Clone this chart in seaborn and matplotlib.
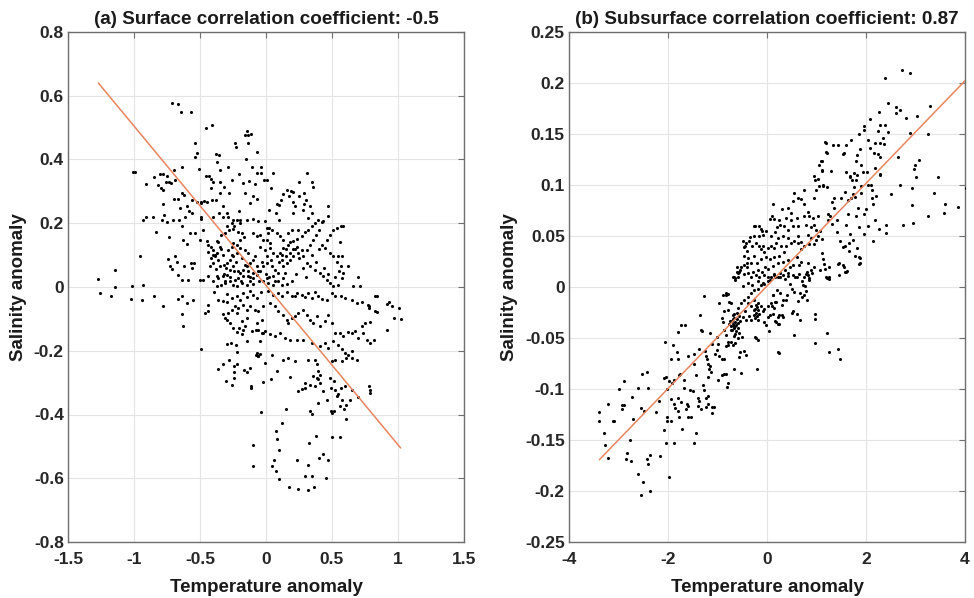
import matplotlib
matplotlib.use("Agg")
import numpy as np
import pandas as pd
import seaborn as sns
import matplotlib.pyplot as plt
from matplotlib.ticker import FuncFormatter, MultipleLocator

# ---------------------------------------------------------------------------
# Surface layer: (temperature anomaly, salinity anomaly)
# ---------------------------------------------------------------------------
surface_upper = [
    (-1.27, 0.025), (-0.715, 0.576), (-0.664, 0.574), (-0.644, 0.549), (-0.568, 0.549),
    (-0.455, 0.498), (-0.409, 0.509), (-0.540, 0.451), (-0.520, 0.420), (-0.538, 0.407),
    (-0.636, 0.378), (-0.510, 0.370), (-0.457, 0.347), (-0.381, 0.418), (-0.359, 0.415),
    (-0.374, 0.392), (-0.348, 0.368), (-0.288, 0.378), (-0.232, 0.453), (-0.227, 0.438),
    (-0.152, 0.401), (-0.144, 0.490), (-0.134, 0.477), (-0.116, 0.480), (-0.159, 0.477),
    (-0.134, 0.453), (-0.071, 0.424), (-0.109, 0.378), (-0.040, 0.378), (0.051, 0.357),
    (0.308, 0.357), (0.351, 0.330), (0.359, 0.313), (-1.005, 0.360), (-0.992, 0.362),
    (-0.912, 0.323), (-0.851, 0.345), (-0.803, 0.355), (-0.783, 0.354), (-0.753, 0.347),
    (-0.821, 0.320), (-0.793, 0.312), (-0.760, 0.328), (-0.732, 0.328), (-0.717, 0.326),
    (-0.700, 0.368), (-0.689, 0.336), (-0.639, 0.295), (-0.621, 0.289), (-0.697, 0.276),
    (-0.667, 0.277), (-0.783, 0.305), (-0.783, 0.261), (-0.652, 0.248), (-0.601, 0.253),
    (-0.581, 0.237), (-0.558, 0.274), (-0.525, 0.268), (-0.492, 0.268), (-0.470, 0.269),
    (-0.444, 0.268), (-0.409, 0.274), (-0.381, 0.274), (-0.492, 0.263), (-0.434, 0.347),
    (-0.419, 0.338), (-0.399, 0.328), (-0.348, 0.328), (-0.316, 0.315), (-0.283, 0.295),
    (-0.348, 0.295), (-0.419, 0.310), (-0.258, 0.336), (-0.202, 0.355), (-0.177, 0.326),
    (-0.131, 0.331), (-0.071, 0.357), (-0.035, 0.357), (-0.013, 0.336), (0.005, 0.336),
    (-0.081, 0.324), (-0.157, 0.295), (-0.096, 0.284), (-0.071, 0.277), (-0.121, 0.263),
    (-0.207, 0.237), (-0.298, 0.232), (-0.359, 0.232), (-0.323, 0.253), (0.035, 0.310),
    (0.114, 0.274), (0.101, 0.256), (0.086, 0.261), (0.131, 0.291), (0.162, 0.305),
    (0.189, 0.300), (0.207, 0.297), (0.174, 0.284), (0.207, 0.268), (0.217, 0.253),
    (0.202, 0.232), (0.247, 0.284), (0.290, 0.295), (0.300, 0.274), (0.290, 0.261),
    (0.283, 0.242), (0.253, 0.328), (0.101, 0.211), (0.073, 0.232), (0.025, 0.242),
    (-0.058, 0.206), (-0.008, 0.206), (0.020, 0.185), (0.005, 0.185), (-0.096, 0.213),
    (-0.144, 0.211), (-0.197, 0.211), (-0.247, 0.211), (-0.285, 0.219), (-0.328, 0.221),
    (-0.298, 0.190), (-0.399, 0.221), (-0.495, 0.221), (-0.492, 0.213), (-0.480, 0.180),
    (-0.563, 0.232), (-0.614, 0.221), (-0.657, 0.211), (-0.702, 0.209), (-0.753, 0.203),
    (-0.788, 0.211), (-0.773, 0.227), (-0.639, 0.190), (-0.576, 0.169), (-0.535, 0.169),
    (-0.500, 0.148), (-0.929, 0.211), (-0.912, 0.221), (-0.854, 0.221), (-0.833, 0.174),
    (-0.732, 0.156), (-0.631, 0.148), (-0.601, 0.136), (-0.955, 0.098), (-0.727, 0.065),
    (-0.712, 0.056), (-0.689, 0.098), (-0.677, 0.080), (-0.619, 0.065), (-0.571, 0.075),
    (-0.548, 0.075), (-0.563, 0.060), (-0.669, 0.039), (-0.740, 0.088), (-0.639, 0.023),
    (-0.593, 0.023), (-0.500, 0.023), (-0.475, 0.023), (-0.437, 0.036), (-0.374, 0.033),
    (-1.144, 0.054), (-1.018, 0.002), (-0.934, 0.005), (-1.144, 0.001),
]

surface_core = [
    (-0.449, 0.143), (-0.437, 0.133), (-0.414, 0.127), (-0.399, 0.117), (-0.404, 0.101),
    (-0.386, 0.096), (-0.374, 0.106), (-0.361, 0.086), (-0.399, 0.075), (-0.424, 0.065),
    (-0.379, 0.056), (-0.348, 0.065), (-0.318, 0.070), (-0.298, 0.075), (-0.273, 0.086),
    (-0.247, 0.096), (-0.222, 0.106), (-0.247, 0.065), (-0.273, 0.054), (-0.298, 0.039),
    (-0.328, 0.033), (-0.361, 0.028), (-0.399, 0.018), (-0.374, 0.004), (-0.343, 0.007),
    (-0.311, 0.013), (-0.273, 0.018), (-0.235, 0.023), (-0.210, 0.028), (-0.197, 0.044),
    (-0.172, 0.054), (-0.146, 0.065), (-0.121, 0.075), (-0.096, 0.086), (-0.083, 0.096),
    (-0.134, 0.106), (-0.159, 0.117), (-0.197, 0.122), (-0.222, 0.133), (-0.260, 0.127),
    (-0.285, 0.117), (-0.328, 0.101), (-0.348, 0.127), (-0.374, 0.143), (-0.341, 0.164),
    (-0.308, 0.169), (-0.278, 0.180), (-0.247, 0.182), (-0.210, 0.174), (-0.184, 0.169),
    (-0.167, 0.157), (-0.197, 0.148), (-0.247, 0.138), (-0.096, 0.169), (-0.071, 0.159),
    (-0.045, 0.164), (-0.020, 0.148), (-0.045, 0.127), (-0.008, 0.117), (0.030, 0.122),
    (0.056, 0.106), (0.081, 0.096), (0.035, 0.086), (0.005, 0.075), (-0.020, 0.065),
    (-0.045, 0.049), (-0.071, 0.039), (-0.096, 0.028), (-0.121, 0.018), (-0.146, 0.007),
    (-0.184, 0.013), (-0.217, 0.002), (-0.247, 0.007), (-0.172, 0.033), (-0.134, 0.033),
    (-0.096, 0.044), (-0.071, 0.065), (-0.033, 0.080), (0.005, 0.096), (0.043, 0.065),
    (0.068, 0.054), (0.093, 0.044), (0.056, 0.033), (0.005, 0.028), (-0.020, 0.018),
    (0.018, 0.013), (0.051, 0.007), (0.093, 0.018), (0.126, 0.028), (0.144, 0.044),
    (0.131, 0.065), (0.157, 0.075), (0.182, 0.086), (0.207, 0.096), (0.245, 0.106),
    (0.270, 0.117), (0.237, 0.127), (0.207, 0.119), (0.182, 0.106), (0.152, 0.096),
    (0.119, 0.086), (0.106, 0.106), (0.131, 0.122), (0.169, 0.133), (0.202, 0.143),
    (0.232, 0.150), (0.270, 0.161), (0.295, 0.171), (0.321, 0.180), (0.346, 0.190),
    (0.371, 0.201), (0.396, 0.209), (0.422, 0.203), (0.404, 0.180), (0.379, 0.164),
    (0.359, 0.148), (0.333, 0.133), (0.308, 0.117), (0.283, 0.096), (0.308, 0.075),
    (0.333, 0.065), (0.371, 0.054), (0.409, 0.044), (0.434, 0.033), (0.460, 0.023),
    (0.485, 0.013), (0.510, 0.002), (0.548, 0.007), (0.573, 0.028), (0.586, 0.044),
    (0.566, 0.065), (0.535, 0.080), (0.510, 0.096), (0.485, 0.106), (0.447, 0.122),
    (0.422, 0.133), (0.460, 0.148), (0.485, 0.164), (0.510, 0.180), (0.535, 0.185),
    (0.566, 0.190), (0.586, 0.192), (0.561, 0.140), (0.548, 0.098), (0.573, 0.096),
    (0.624, 0.067), (0.699, 0.031), (0.662, 0.004), (0.712, 0.002), (0.472, 0.253),
    (0.467, 0.224), (0.434, 0.206), (0.346, 0.232), (0.321, 0.216), (0.333, 0.253),
    (0.240, 0.180), (0.194, 0.180), (0.169, 0.169), (0.131, 0.148), (0.106, 0.159),
    (0.081, 0.169), (0.043, 0.180), (0.018, 0.169), (0.005, 0.148), (0.030, 0.138),
    (-0.18, 0.09), (-0.16, 0.07), (-0.14, 0.05), (-0.12, 0.03), (-0.10, 0.01),
    (-0.19, 0.02), (-0.21, 0.05), (-0.23, 0.08), (-0.26, 0.10), (-0.30, 0.06),
    (-0.32, 0.04), (-0.34, 0.12), (-0.36, 0.14), (-0.39, 0.10), (-0.42, 0.09),
    (-0.44, 0.11), (-0.31, 0.02), (-0.27, 0.03), (-0.24, 0.05), (-0.05, 0.02),
    (-0.06, 0.05), (0.00, 0.04), (0.02, 0.03), (0.07, 0.02), (0.10, 0.08),
    (0.12, 0.10), (0.15, 0.12), (0.18, 0.14), (0.22, 0.12), (0.25, 0.09),
    (0.28, 0.06), (0.30, 0.03), (0.23, 0.04), (0.20, 0.02), (0.16, 0.01),
    (0.12, 0.005), (0.35, 0.10), (0.38, 0.08), (0.40, 0.12), (0.44, 0.06),
    (0.47, 0.04), (0.52, 0.03), (0.55, 0.05), (-0.26, 0.20), (-0.24, 0.19),
    (-0.22, 0.21), (-0.20, 0.20),
]

surface_lower = [
    (-1.258, -0.019), (-1.177, -0.029), (-1.025, -0.037), (-0.937, -0.042), (-0.846, -0.027),
    (-0.783, -0.061), (-0.664, -0.038), (-0.639, -0.029), (-0.596, -0.050), (-0.551, -0.040),
    (-0.639, -0.085), (-0.631, -0.123), (-0.462, -0.081), (-0.437, -0.055), (-0.437, -0.076),
    (-0.492, -0.194), (-0.391, -0.017), (-0.361, -0.042), (-0.323, -0.045), (-0.293, -0.048),
    (-0.323, -0.084), (-0.311, -0.097), (-0.298, -0.102), (-0.273, -0.113), (-0.285, -0.081),
    (-0.260, -0.071), (-0.235, -0.061), (-0.222, -0.081), (-0.250, -0.128), (-0.222, -0.142),
    (-0.184, -0.146), (-0.202, -0.128), (-0.172, -0.134), (-0.159, -0.123), (-0.146, -0.170),
    (-0.109, -0.139), (-0.076, -0.136), (-0.045, -0.170), (-0.025, -0.144), (-0.298, -0.178),
    (-0.268, -0.175), (-0.230, -0.181), (-0.222, -0.205), (-0.076, -0.212), (-0.058, -0.217),
    (-0.361, -0.257), (-0.323, -0.243), (-0.278, -0.228), (-0.240, -0.249), (-0.242, -0.267),
    (-0.222, -0.240), (-0.167, -0.259), (-0.146, -0.267), (-0.121, -0.254), (-0.303, -0.296),
    (-0.255, -0.309), (-0.240, -0.285), (-0.116, -0.311), (-0.116, -0.318), (-0.020, -0.299),
    (-0.040, -0.392), (-0.101, -0.497), (-0.101, -0.562), (-0.298, -0.021), (-0.260, -0.035),
    (-0.222, -0.027), (-0.197, -0.040), (-0.172, -0.019), (-0.146, -0.031), (-0.121, -0.014),
    (-0.096, -0.024), (-0.071, -0.035), (-0.040, -0.017), (-0.020, -0.061), (-0.172, -0.055),
    (-0.210, -0.066), (-0.146, -0.071), (-0.121, -0.061), (-0.083, -0.071), (-0.058, -0.076),
    (-0.033, -0.102), (-0.071, -0.113), (-0.146, -0.097), (-0.184, -0.108),
    (0.018, -0.014), (0.056, -0.024), (0.088, -0.019), (0.119, -0.027), (0.157, -0.017),
    (0.194, -0.029), (0.220, -0.027), (0.232, -0.019), (0.270, -0.024), (0.295, -0.031),
    (0.321, -0.019), (0.346, -0.034), (0.371, -0.017), (0.396, -0.029), (0.422, -0.038),
    (0.460, -0.040), (0.503, -0.019), (0.523, -0.029), (0.568, -0.027), (0.598, -0.034),
    (0.649, -0.040), (0.687, -0.050), (0.725, -0.048), (0.775, -0.058), (0.826, -0.029),
    (0.843, -0.027), (0.914, -0.052), (0.932, -0.048), (0.952, -0.060), (0.972, -0.097),
    (1.008, -0.066), (1.020, -0.100), (0.914, -0.136), (0.826, -0.076), (0.838, -0.079),
    (0.783, -0.061), (0.783, -0.066),
    (0.030, -0.050), (0.068, -0.061), (0.093, -0.076), (0.131, -0.087), (0.157, -0.102),
    (0.169, -0.113), (0.194, -0.097), (0.220, -0.092), (0.245, -0.081), (0.283, -0.071),
    (0.308, -0.087), (0.333, -0.102), (0.359, -0.113), (0.384, -0.092), (0.409, -0.123),
    (0.447, -0.108), (0.472, -0.087), (0.497, -0.113), (0.523, -0.144), (0.561, -0.144),
    (0.586, -0.155), (0.619, -0.142), (0.649, -0.144), (0.674, -0.139), (0.699, -0.160),
    (0.737, -0.144), (0.763, -0.165), (0.788, -0.175), (0.821, -0.165), (0.788, -0.111),
    (0.750, -0.113), (0.725, -0.123), (-0.058, -0.134), (-0.033, -0.144), (-0.008, -0.139),
    (0.030, -0.149), (0.068, -0.155), (0.106, -0.144), (0.144, -0.160), (0.182, -0.165),
    (0.232, -0.165), (0.283, -0.165), (0.346, -0.175), (0.409, -0.186), (0.447, -0.175),
    (0.472, -0.191), (0.510, -0.170), (0.548, -0.181), (0.578, -0.196), (0.598, -0.207),
    (0.624, -0.212), (0.654, -0.222), (0.687, -0.228), (0.649, -0.202), (0.604, -0.222),
    (0.573, -0.233), (0.523, -0.230), (0.503, -0.233), (-0.071, -0.207), (-0.058, -0.217),
    (-0.045, -0.210), (-0.008, -0.238), (0.043, -0.212), (0.081, -0.264), (0.131, -0.228),
    (0.169, -0.222), (0.220, -0.233), (0.321, -0.228), (0.371, -0.228), (0.384, -0.243),
    (0.396, -0.264), (0.409, -0.275), (0.384, -0.285), (0.359, -0.280), (0.391, -0.290),
    (0.409, -0.300), (0.371, -0.311), (0.333, -0.306), (0.295, -0.316), (0.270, -0.320),
    (0.245, -0.327), (0.295, -0.300), (0.038, -0.288), (0.182, -0.282),
    (0.485, -0.285), (0.518, -0.296), (0.492, -0.316), (0.460, -0.353), (0.434, -0.327),
    (0.523, -0.322), (0.535, -0.342), (0.548, -0.337), (0.568, -0.316), (0.598, -0.311),
    (0.578, -0.353), (0.604, -0.369), (0.593, -0.382), (0.561, -0.374), (0.518, -0.390),
    (0.492, -0.390), (0.503, -0.395), (0.604, -0.414), (0.636, -0.353), (0.649, -0.322),
    (0.699, -0.345), (0.780, -0.311), (0.788, -0.322), (0.788, -0.334), (0.391, -0.363),
    (0.333, -0.390), (0.351, -0.397), (0.149, -0.382), (0.124, -0.426), (0.076, -0.451),
    (0.081, -0.476), (0.098, -0.512), (0.063, -0.543), (0.043, -0.560), (0.076, -0.578),
    (0.098, -0.602), (0.174, -0.627), (0.240, -0.633), (0.321, -0.637), (0.366, -0.627),
    (0.295, -0.593), (0.351, -0.593), (0.452, -0.598), (0.235, -0.543), (0.316, -0.557),
    (0.402, -0.536), (0.434, -0.523), (0.472, -0.543), (0.326, -0.489), (0.379, -0.468),
    (0.497, -0.471), (0.561, -0.471),
]

# ---------------------------------------------------------------------------
# Subsurface layer: (temperature anomaly, salinity anomaly)
# ---------------------------------------------------------------------------
subsurface_upper = [
    (2.734, 0.213), (2.896, 0.210), (2.384, 0.205), (2.451, 0.180), (2.599, 0.176),
    (2.599, 0.171), (2.680, 0.174), (2.801, 0.166), (3.293, 0.177), (3.037, 0.168),
    (2.263, 0.172), (2.081, 0.165), (1.953, 0.158), (1.966, 0.154), (2.283, 0.159),
    (2.384, 0.159), (2.438, 0.152), (2.350, 0.146), (2.236, 0.153), (2.182, 0.141),
    (2.283, 0.141), (2.370, 0.140), (2.047, 0.144), (1.852, 0.150), (2.896, 0.151),
    (3.246, 0.150), (1.697, 0.144), (1.589, 0.139), (1.441, 0.139), (1.340, 0.139),
    (1.192, 0.141), (1.207, 0.131), (1.542, 0.130), (1.562, 0.131), (1.811, 0.129),
    (1.791, 0.124), (1.879, 0.135), (2.081, 0.136), (2.168, 0.131), (2.236, 0.130),
    (2.283, 0.127), (2.653, 0.127), (2.990, 0.120), (3.077, 0.125), (2.963, 0.116),
    (3.017, 0.108), (3.461, 0.108), (1.300, 0.114), (1.603, 0.113), (1.684, 0.109),
    (1.751, 0.112), (1.825, 0.110), (1.905, 0.120), (1.939, 0.113), (2.020, 0.113),
    (2.189, 0.117), (2.283, 0.111), (1.670, 0.108), (1.717, 0.105), (1.791, 0.105),
    (1.104, 0.124), (1.104, 0.114), (1.124, 0.100), (1.219, 0.098), (1.751, 0.098),
    (1.905, 0.099), (1.905, 0.092), (2.047, 0.100), (2.101, 0.100), (2.115, 0.095),
    (2.202, 0.089), (2.115, 0.087), (2.148, 0.081), (1.744, 0.091), (1.697, 0.087),
    (1.778, 0.088), (1.630, 0.085), (1.576, 0.093), (1.495, 0.087), (1.360, 0.087),
    (1.320, 0.083), (1.354, 0.077), (1.273, 0.070), (1.408, 0.066), (1.307, 0.062),
    (1.421, 0.054), (1.596, 0.061), (1.630, 0.072), (1.791, 0.070), (1.845, 0.077),
    (1.966, 0.072), (1.993, 0.076), (1.859, 0.059), (1.966, 0.052), (1.670, 0.052),
    (2.047, 0.060), (2.182, 0.066), (2.269, 0.057), (2.397, 0.061), (2.404, 0.053),
    (2.135, 0.045), (2.276, 0.110), (2.505, 0.091), (2.680, 0.100), (2.936, 0.080),
    (2.936, 0.097), (2.741, 0.061), (2.943, 0.063), (3.246, 0.070), (3.380, 0.092),
    (3.582, 0.073), (3.596, 0.081), (3.865, 0.078), (4.013, 0.097), (4.047, 0.087),
    (1.475, 0.045), (1.542, 0.039), (1.663, 0.043), (1.744, 0.046), (1.865, 0.029),
    (1.865, 0.023), (1.441, 0.023), (1.542, 0.022), (1.616, 0.016), (1.104, 0.047),
    (1.104, 0.033), (1.138, 0.027), (1.158, 0.023), (1.172, 0.018), (1.226, 0.009),
    (1.253, 0.008),
]

subsurface_core = [
    (1.178, 0.142), (1.192, 0.132), (1.091, 0.124), (1.057, 0.120), (1.104, 0.115),
    (0.956, 0.109), (1.023, 0.106), (0.970, 0.105), (0.990, 0.095), (1.057, 0.099),
    (1.125, 0.099), (0.552, 0.092), (0.741, 0.095), (0.943, 0.087), (0.620, 0.087),
    (0.687, 0.086), (0.519, 0.084), (0.114, 0.081), (0.296, 0.076), (0.418, 0.077),
    (0.485, 0.073), (0.754, 0.081), (0.822, 0.074), (0.754, 0.070), (0.855, 0.070),
    (0.923, 0.068), (1.023, 0.070), (1.226, 0.072), (1.239, 0.066), (0.599, 0.068),
    (0.384, 0.068), (0.485, 0.066), (0.249, 0.066), (0.135, 0.067), (0.054, 0.067),
    (0.195, 0.059), (0.269, 0.061), (0.350, 0.060), (0.418, 0.056), (0.519, 0.060),
    (0.633, 0.060), (0.788, 0.061), (0.889, 0.059), (0.956, 0.061), (0.990, 0.056),
    (1.071, 0.055), (0.620, 0.050), (0.822, 0.051), (0.889, 0.048), (0.990, 0.046),
    (1.023, 0.050), (0.943, 0.042), (0.855, 0.042), (0.754, 0.040), (0.687, 0.037),
    (0.687, 0.044), (0.620, 0.043), (0.552, 0.045), (0.485, 0.043), (0.418, 0.048),
    (0.316, 0.050), (0.229, 0.048), (0.162, 0.054), (0.081, 0.050), (-0.020, 0.055),
    (-0.088, 0.051), (-0.155, 0.050), (-0.256, 0.060), (-0.155, 0.060), (-0.108, 0.055),
    (-0.256, 0.050), (-0.357, 0.045), (-0.424, 0.043), (-0.458, 0.039), (-0.404, 0.035),
    (-0.471, 0.030), (-0.391, 0.028), (-0.310, 0.040), (-0.222, 0.043), (-0.155, 0.040),
    (-0.088, 0.040), (-0.121, 0.037), (-0.054, 0.034), (0.027, 0.038), (0.081, 0.040),
    (0.135, 0.038), (0.182, 0.043), (0.283, 0.040), (0.384, 0.040), (0.337, 0.034),
    (0.249, 0.030), (0.148, 0.029), (0.067, 0.027), (-0.020, 0.029), (-0.121, 0.027),
    (-0.202, 0.024), (-0.256, 0.030), (-0.323, 0.024), (-0.404, 0.020), (-0.471, 0.022),
    (-0.525, 0.020), (-0.559, 0.015), (-0.593, 0.010), (-0.471, 0.013), (-0.391, 0.014),
    (-0.290, 0.015), (-0.189, 0.017), (-0.108, 0.015), (-0.040, 0.020), (0.027, 0.018),
    (0.114, 0.021), (0.215, 0.024), (0.316, 0.025), (0.431, 0.026), (0.519, 0.022),
    (0.606, 0.029), (0.687, 0.025), (0.822, 0.024), (0.808, 0.015), (0.889, 0.017),
    (0.956, 0.020), (0.822, 0.012), (0.754, 0.010), (0.653, 0.013), (0.519, 0.012),
    (0.418, 0.014), (0.316, 0.012), (0.229, 0.010), (0.148, 0.012), (0.013, 0.010),
    (-0.067, 0.012), (-0.155, 0.010), (-0.222, 0.012), (-0.323, 0.010), (-0.660, 0.010),
    (-0.606, 0.015), (0.653, 0.022), (0.094, 0.070),
    (-0.480, 0.045), (-0.447, 0.040), (-0.413, 0.024), (-0.580, 0.014), (-0.650, 0.009),
    (-0.616, 0.020), (-0.548, 0.017), (-0.345, 0.049), (-0.244, 0.060), (-0.122, 0.057),
    (-0.379, 0.004), (-0.480, 0.001), (-0.311, 0.002), (-0.176, 0.006), (-0.074, 0.004),
    (0.061, 0.007), (0.162, 0.010), (0.264, 0.014), (0.365, 0.017), (0.467, 0.020),
    (0.568, 0.010), (0.704, 0.006), (0.771, 0.001), (0.839, 0.009), (0.907, 0.014),
    (1.076, 0.017), (1.245, 0.020), (1.448, 0.024), (1.549, 0.020), (1.583, 0.015),
    (1.448, 0.012), (1.245, 0.010), (1.211, 0.009), (1.786, 0.030), (1.888, 0.028),
    (1.888, 0.024), (1.583, 0.040), (1.651, 0.035), (1.820, 0.038),
    (-0.886, -0.008), (-0.820, -0.006), (-0.683, 0.010), (-0.650, 0.007),
]

subsurface_lower = [
    (-3.387, -0.123), (-3.387, -0.131), (-3.219, -0.115), (-3.118, -0.131), (-3.097, -0.131),
    (-3.300, -0.143), (-3.273, -0.155), (-3.205, -0.168), (-2.983, -0.100), (-2.936, -0.116),
    (-2.882, -0.116), (-2.929, -0.120), (-2.882, -0.092), (-2.734, -0.108), (-2.714, -0.129),
    (-2.761, -0.150), (-2.828, -0.163), (-2.848, -0.169), (-2.747, -0.171), (-2.613, -0.183),
    (-2.512, -0.191), (-2.357, -0.200), (-2.545, -0.204), (-2.431, -0.169), (-2.357, -0.165),
    (-2.398, -0.174), (-2.155, -0.166), (-1.973, -0.186), (-2.532, -0.085), (-2.424, -0.083),
    (-2.600, -0.099), (-2.398, -0.099), (-2.478, -0.122), (-2.545, -0.119), (-2.242, -0.123),
    (-2.175, -0.112), (-2.088, -0.089), (-2.040, -0.088), (-2.020, -0.100), (-1.973, -0.092),
    (-1.926, -0.094), (-1.939, -0.071), (-2.061, -0.054), (-1.906, -0.057), (-1.818, -0.064),
    (-1.805, -0.044), (-1.737, -0.037), (-1.657, -0.037), (-1.347, -0.027), (-1.266, -0.009),
    (-1.320, -0.043), (-1.589, -0.068), (-1.791, -0.071), (-1.751, -0.085), (-1.684, -0.091),
    (-1.771, -0.086), (-1.886, -0.091), (-1.939, -0.110), (-1.886, -0.115), (-2.020, -0.127),
    (-2.020, -0.131), (-1.939, -0.131), (-2.088, -0.140), (-2.040, -0.153), (-1.886, -0.153),
    (-1.771, -0.127), (-1.805, -0.122), (-1.859, -0.119), (-1.724, -0.139), (-1.623, -0.115),
    (-1.603, -0.117), (-1.670, -0.099), (-1.549, -0.101), (-1.502, -0.102), (-1.482, -0.153),
    (-1.434, -0.143), (-1.400, -0.109), (-1.367, -0.112), (-1.333, -0.120), (-1.400, -0.117),
    (-1.434, -0.086), (-1.468, -0.075), (-1.481, -0.066), (-1.333, -0.042), (-1.367, -0.061),
    (-1.253, -0.063), (-1.232, -0.068), (-1.212, -0.071), (-1.185, -0.075), (-1.165, -0.080),
    (-1.145, -0.077), (-1.131, -0.083), (-1.199, -0.088), (-1.232, -0.109), (-1.199, -0.115),
    (-1.232, -0.118), (-1.118, -0.118), (-1.077, -0.118), (-1.118, -0.124), (-1.185, -0.107),
    (-1.266, -0.101), (-1.300, -0.096), (-1.535, -0.127), (-1.636, -0.120), (-1.603, -0.127),
    (-1.737, -0.113), (-1.791, -0.109), (-1.145, -0.045), (-1.118, -0.056), (-1.010, -0.049),
    (-0.997, -0.056), (-1.010, -0.062), (-1.051, -0.066), (-0.963, -0.068), (-0.916, -0.071),
    (-0.862, -0.071), (-0.997, -0.091), (-0.916, -0.086), (-0.875, -0.085), (-0.828, -0.085),
    (-0.815, -0.098), (-0.788, -0.094), (-0.673, -0.080), (-0.525, -0.084), (-0.545, -0.064),
    (-0.572, -0.069), (-0.458, -0.063), (-0.424, -0.067), (-0.202, -0.080), (-0.896, -0.034),
    (-0.916, -0.030), (-0.862, -0.024), (-0.795, -0.023), (-0.761, -0.015), (-0.727, -0.016),
    (-0.828, -0.008), (-0.795, -0.007), (-0.976, -0.016), (-0.862, -0.042), (-0.828, -0.047),
    (-0.795, -0.054), (-0.828, -0.058), (-0.781, -0.057), (-0.727, -0.054), (-0.694, -0.057),
    (-0.660, -0.048), (-0.646, -0.055), (-0.593, -0.050), (-0.559, -0.045), (-0.512, -0.049),
    (-0.727, -0.042), (-0.761, -0.036), (-0.694, -0.031), (-0.660, -0.026), (-0.593, -0.021),
    (-0.525, -0.016), (-0.458, -0.013), (-0.391, -0.010), (-0.323, -0.006), (-0.256, -0.003),
    (-0.189, -0.002), (-0.121, 0.002), (-0.054, 0.003), (0.013, 0.006), (0.081, 0.010),
    (0.135, 0.013), (-0.256, -0.013), (-0.189, -0.016), (-0.121, -0.019), (-0.087, -0.024),
    (-0.054, -0.022), (0.013, -0.019), (0.081, -0.016), (0.135, -0.021), (0.114, -0.026),
    (0.013, -0.029), (-0.054, -0.034), (-0.020, -0.037), (0.047, -0.043), (0.182, -0.034),
    (0.215, -0.029), (0.249, -0.036), (0.249, -0.065), (0.182, -0.015), (0.114, -0.008),
    (-0.242, -0.049), (-0.222, -0.050), (-0.189, -0.052), (-0.323, -0.032), (-0.357, -0.028),
    (-0.256, -0.023), (-0.323, -0.019), (-0.391, -0.016), (-0.444, -0.024), (-0.492, -0.029),
    (-0.424, -0.032),
    (-0.72, -0.038), (-0.70, -0.033), (-0.68, -0.036), (-0.66, -0.040), (-0.64, -0.034),
    (-0.62, -0.037), (-0.60, -0.031), (-0.58, -0.035), (-0.66, -0.030), (-0.70, -0.042),
    (-0.63, -0.043), (-0.56, -0.028), (-0.54, -0.033), (-0.68, -0.027), (-0.61, -0.025),
    (-0.74, -0.033), (-0.65, -0.046), (-0.59, -0.040), (-0.67, -0.038), (-0.64, -0.038),
    (-0.25, -0.022), (-0.22, -0.025), (-0.20, -0.028), (-0.18, -0.023), (-0.24, -0.030),
    (-0.21, -0.020), (-0.19, -0.032), (-0.16, -0.026), (-0.26, -0.027), (-0.23, -0.018),
    (0.228, -0.064), (0.545, -0.047), (0.969, -0.055), (1.218, -0.045), (1.252, -0.064),
    (1.427, -0.061), (1.474, -0.071), (0.969, -0.026), (0.969, -0.031), (0.666, -0.032),
    (0.612, -0.026), (0.531, -0.024), (0.498, -0.025), (0.161, -0.033), (0.228, -0.036),
    (0.296, -0.027), (0.316, -0.029), (0.249, -0.027), (0.060, -0.027), (0.094, -0.019),
    (0.161, -0.015), (0.296, -0.018), (0.330, -0.013), (0.384, -0.013), (0.397, -0.008),
    (0.262, -0.006), (0.195, -0.003), (0.127, -0.008), (0.632, -0.014), (0.700, -0.010),
    (0.801, -0.013), (0.754, -0.008), (0.787, -0.004), (0.666, -0.006), (0.545, -0.005),
    (0.498, -0.002), (0.720, 0.002), (0.464, 0.003), (0.599, 0.010), (0.430, 0.011),
    (0.363, 0.008), (0.262, 0.010), (0.787, 0.013), (0.855, 0.007), (1.191, 0.010),
    (1.595, 0.015),
]

# Least-squares fit lines (slope, intercept)
surface_fit = (-0.500, 0.005)
subsurface_fit = (0.0503, 0.001)

panel_titles = [
    "(a) Surface correlation coefficient: -0.5",
    "(b) Subsurface correlation coefficient: 0.87",
]
x_label = "Temperature anomaly"
y_label = "Salinity anomaly"


def to_frame(*groups):
    pts = [p for g in groups for p in g]
    return pd.DataFrame(pts, columns=["temperature", "salinity"])


surface = to_frame(surface_upper, surface_core, surface_lower)
subsurface = to_frame(subsurface_upper, subsurface_core, subsurface_lower)

sns.set_theme(style="whitegrid")
plt.rcParams["font.family"] = ["Liberation Sans", "DejaVu Sans"]
plt.rcParams["font.weight"] = "bold"
plt.rcParams["axes.labelweight"] = "bold"
plt.rcParams["axes.titleweight"] = "bold"

W, H = 974, 598
fig = plt.figure(figsize=(W / 100, H / 100), dpi=100)
fig.patch.set_facecolor("white")
ax_a = fig.add_axes([68 / W, 56 / H, 396 / W, 510 / H])
ax_b = fig.add_axes([569 / W, 56 / H, 396 / W, 510 / H])

fmt = FuncFormatter(lambda v, _: "%g" % round(v, 6))


def draw_panel(ax, df, fit, title, xlim, ylim, xstep, ystep):
    sns.scatterplot(data=df, x="temperature", y="salinity", ax=ax,
                    color="black", s=5, linewidth=0, marker="o", zorder=3)
    xs = np.array([df["temperature"].min(), df["temperature"].max()])
    sns.lineplot(x=xs, y=fit[0] * xs + fit[1], ax=ax,
                 color="#e8845e", linewidth=1.1, zorder=4)
    ax.set_xlim(*xlim)
    ax.set_ylim(*ylim)
    ax.xaxis.set_major_locator(MultipleLocator(xstep))
    ax.yaxis.set_major_locator(MultipleLocator(ystep))
    ax.xaxis.set_major_formatter(fmt)
    ax.yaxis.set_major_formatter(fmt)
    ax.set_facecolor("white")
    ax.grid(True, color="#e4e4e4", linewidth=0.8)
    ax.set_axisbelow(True)
    for sp in ax.spines.values():
        sp.set_visible(True)
        sp.set_color("#6e6e6e")
        sp.set_linewidth(1.0)
    ax.tick_params(direction="in", length=4, width=0.8, top=True, right=True,
                   color="#6e6e6e", labelcolor="#262626", labelsize=12.5)
    ax.tick_params(axis="x", pad=7)
    ax.tick_params(axis="y", pad=3)
    ax.set_title(title, fontsize=13.6, color="#1a1a1a", pad=6)
    ax.set_xlabel(x_label, fontsize=13.5, color="#1a1a1a", labelpad=9)
    ax.set_ylabel(y_label, fontsize=13.5, color="#1a1a1a", labelpad=5)


draw_panel(ax_a, surface, surface_fit, panel_titles[0],
           (-1.5, 1.5), (-0.8, 0.8), 0.5, 0.2)
draw_panel(ax_b, subsurface, subsurface_fit, panel_titles[1],
           (-4, 4), (-0.25, 0.25), 2, 0.05)

fig.savefig("out.png", dpi=100, facecolor="white")
